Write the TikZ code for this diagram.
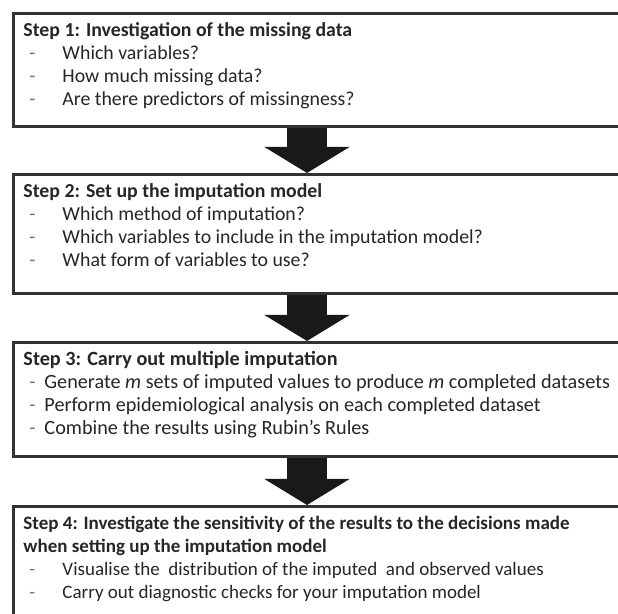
\documentclass[tikz,border=0pt]{standalone}
\usepackage{fontspec}
\setmainfont{Carlito}
\usetikzlibrary{arrows.meta}

\newcommand{\qline}[2][19.5pt]{\par\makebox[#1][l]{\hspace{3pt}\textcolor{black!55}{-}}#2}
\newcommand{\steptext}[3]{\parbox[t][#1][t]{320pt}{\rule{0pt}{11.5pt}#3}}

\begin{document}
\begin{tikzpicture}[x=0.5pt,y=-0.5pt,
  stepbox/.style={draw=black!80,line width=1.5pt,anchor=north west,
    inner xsep=5pt,inner ysep=0pt,text=black!85},
  bigarrow/.style={line width=20pt,black!90,-{Triangle[width=42pt,length=13pt]}}]
	\clip (0,0) rectangle (618,614);
	\fill[white] (0,0) rectangle (618,614);
	\coordinate (axis) at (307,0);
	\node[stepbox,font=\fontsize{9.9}{11.5}\selectfont] (step1) at (12,12) {\steptext{56.5pt}{}{%
		\textbf{Step 1: Investigation of the missing data}
		\qline{Which variables?}
		\qline{How much missing data?}
		\qline{Are there predictors of missingness?}}};
	\node[stepbox,font=\fontsize{9.9}{11.5}\selectfont] (step2) at (12,173) {\steptext{59.5pt}{}{%
		\textbf{Step 2: Set up the imputation model}
		\qline{Which method of imputation?}
		\qline{Which variables to include in the imputation model?}
		\qline{What form of variables to use?}}};
	\node[stepbox,font=\fontsize{10.1}{11.5}\selectfont] (step3) at (12,341) {\steptext{57pt}{}{%
		\textbf{Step 3: Carry out multiple imputation}
		\qline[10.5pt]{Generate \textit{m} sets of imputed values to produce \textit{m} completed datasets}
		\qline[10.5pt]{Perform epidemiological analysis on each completed dataset}
		\qline[10.5pt]{Combine the results using Rubin’s Rules}}};
	\node[stepbox,font=\fontsize{9.5}{11.5}\selectfont] (step4) at (12,505) {\steptext{80pt}{}{%
		\textbf{Step 4: Investigate the sensitivity of the results to the decisions made}\par
		\textbf{when setting up the imputation model}
		\qline{Visualise the\ \ distribution of the imputed\ \ and observed values}
		\qline{Carry out diagnostic checks for your imputation model}}};
	\draw[bigarrow] (step1.south -| axis) -- (step2.north -| axis);
	\draw[bigarrow] (step2.south -| axis) -- (step3.north -| axis);
	\draw[bigarrow] (step3.south -| axis) -- (step4.north -| axis);
\end{tikzpicture}
\end{document}
